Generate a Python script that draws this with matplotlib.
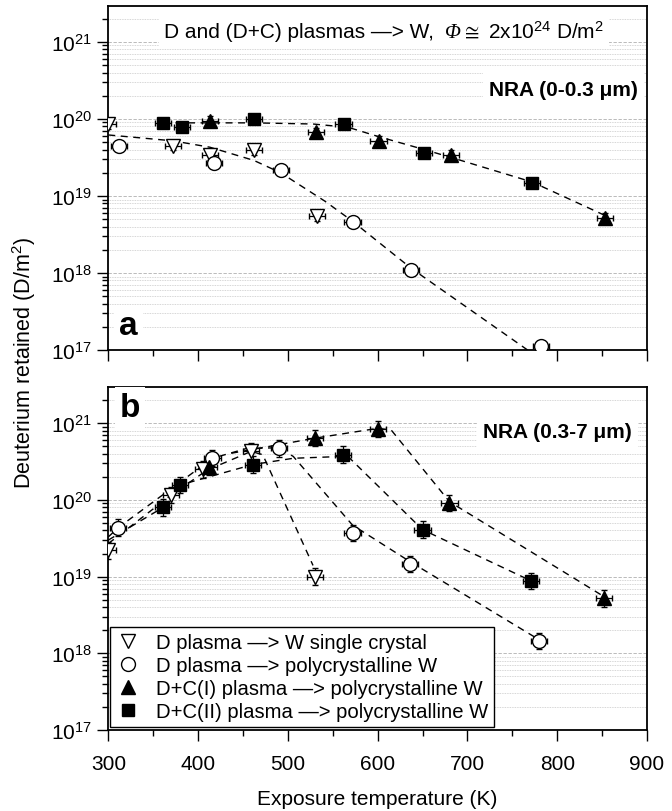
import numpy as np
import matplotlib
matplotlib.use("Agg")
import matplotlib.pyplot as plt
from matplotlib.ticker import LogLocator, MultipleLocator, NullFormatter
from matplotlib.offsetbox import TextArea, HPacker, AnnotationBbox

plt.rcParams['font.family'] = ['Liberation Sans', 'DejaVu Sans']
plt.rcParams['mathtext.fontset'] = 'custom'
plt.rcParams['mathtext.rm'] = 'Liberation Sans'
plt.rcParams['mathtext.it'] = 'Liberation Sans:italic'
plt.rcParams['mathtext.bf'] = 'Liberation Sans:bold'

# ---- panel a: NRA (0-0.3 um) ----
a_sc_T = [300, 372, 413, 462, 532]
a_sc_D = [8.6e19, 4.5e19, 3.4e19, 3.9e19, 5.5e18]
a_pw_T = [312, 418, 492, 572, 637, 782]
a_pw_D = [4.5e19, 2.7e19, 2.16e19, 4.6e18, 1.1e18, 1.13e17]
a_c1_T = [413, 531, 601, 682, 853]
a_c1_D = [9.5e19, 6.7e19, 5.2e19, 3.4e19, 5.2e18]
a_c2_T = [361, 382, 462, 562, 652, 772]
a_c2_D = [8.9e19, 7.8e19, 1.0e20, 8.5e19, 3.6e19, 1.48e19]

# dashed guide lines, panel a
a_fitC_T = [361, 462, 528, 567, 601, 652, 682, 772, 853]
a_fitC_D = [8.9e19, 8.9e19, 8.6e19, 7.8e19, 5.9e19, 4.0e19, 3.16e19, 1.52e19, 5.6e18]
a_fitD_T = [300, 372, 413, 462, 492, 541, 572, 637, 767]
a_fitD_D = [6.2e19, 5.2e19, 4.3e19, 2.9e19, 2.0e19, 8.6e18, 4.7e18, 1.16e18, 1.0e17]

# ---- panel b: NRA (0.3-7 um) ----
b_sc_T = [300, 370, 406, 459, 530]
b_sc_D = [2.2e19, 1.16e20, 2.5e20, 4.3e20, 1.0e19]
b_pw_T = [311, 416, 490, 572, 636, 780]
b_pw_D = [4.35e19, 3.5e20, 4.7e20, 3.7e19, 1.46e19, 1.45e18]
b_c1_T = [412, 530, 600, 680, 852]
b_c1_D = [2.7e20, 6.4e20, 8.4e20, 9.1e19, 5.2e18]
b_c2_T = [361, 380, 461, 561, 650, 771]
b_c2_D = [8.0e19, 1.57e20, 2.9e20, 3.9e20, 4.1e19, 8.8e18]

# dashed guide lines, panel b
b_fitSC_T = [300, 370, 410, 459, 472, 528]
b_fitSC_D = [2.7e19, 1.16e20, 2.45e20, 4.3e20, 3.9e20, 1.4e19]
b_fitPW_T = [300, 311, 416, 454, 490, 506, 572, 636, 780]
b_fitPW_D = [3.3e19, 4.35e19, 3.5e20, 4.7e20, 4.8e20, 3.7e20, 4.7e19, 1.57e19, 1.5e18]
b_fitC2_T = [300, 361, 380, 461, 506, 561, 569, 650, 771]
b_fitC2_D = [3.0e19, 8.0e19, 1.57e20, 2.9e20, 3.5e20, 3.7e20, 3.5e20, 4.1e19, 8.8e18]
b_fitC1_T = [437, 530, 600, 615, 680, 852]
b_fitC1_D = [4.07e20, 6.4e20, 8.6e20, 8.2e20, 9.5e19, 5.5e18]

T_ERR = 9          # K
A_REL_ERR = 0.15
B_REL_ERR = 0.28

labels = ['D plasma \u2014> W single crystal',
          'D plasma \u2014> polycrystalline W',
          'D+C(I) plasma \u2014> polycrystalline W',
          'D+C(II) plasma \u2014> polycrystalline W']

styles = [dict(marker='v', mfc='white', ms=10.5),
          dict(marker='o', mfc='white', ms=10),
          dict(marker='^', mfc='black', ms=10.5),
          dict(marker='s', mfc='black', ms=9)]


def setup_axis(ax):
    ax.set_yscale('log')
    ax.set_xlim(300, 900)
    ax.set_ylim(1e17, 10 ** 21.47)
    ax.xaxis.set_major_locator(MultipleLocator(100))
    ax.xaxis.set_minor_locator(MultipleLocator(50))
    ax.yaxis.set_major_locator(LogLocator(base=10, numticks=10))
    ax.yaxis.set_minor_locator(LogLocator(base=10, subs=np.arange(2, 10), numticks=20))
    ax.yaxis.set_minor_formatter(NullFormatter())
    ax.tick_params(which='both', direction='out', top=False, right=False,
                   labelsize=15, width=1)
    ax.tick_params(which='major', length=8)
    ax.tick_params(which='minor', length=4.5)
    ax.tick_params(axis='x', pad=9)
    ax.grid(True, which='major', axis='y', color='#b0b0b0', ls=(0, (4, 2)), lw=0.6)
    ax.grid(True, which='minor', axis='y', color='#c8c8c8', ls=(0, (1, 1)), lw=0.6)
    ax.set_axisbelow(True)
    for s in ax.spines.values():
        s.set_linewidth(1.3)


def draw_series(ax, sets, rel_err):
    handles = []
    for (T, D), st, lab in zip(sets, styles, labels):
        D = np.array(D)
        cont = ax.errorbar(T, D, xerr=T_ERR, yerr=[D * rel_err / (1 + rel_err), D * rel_err],
                           ls='none', color='black', mec='black', mew=1.0,
                           elinewidth=0.9, capsize=2.5, capthick=0.9, zorder=5,
                           label=lab, **st)
        handles.append(cont.lines[0])
    return handles


fig = plt.figure(figsize=(6.72, 8.12), dpi=100)
ax1 = fig.add_axes([0.1612, 0.5677, 0.8016, 0.4240])
ax2 = fig.add_axes([0.1612, 0.0998, 0.8016, 0.4220])

dash = dict(color='black', ls=(0, (5, 4)), lw=1.0, zorder=3)

# panel a
setup_axis(ax1)
ax1.tick_params(axis='x', labelbottom=False)
ax1.plot(a_fitC_T, a_fitC_D, **dash)
ax1.plot(a_fitD_T, a_fitD_D, **dash)
draw_series(ax1, [(a_sc_T, a_sc_D), (a_pw_T, a_pw_D), (a_c1_T, a_c1_D), (a_c2_T, a_c2_D)],
            A_REL_ERR)

# title line, with italic Phi
tprops = dict(fontsize=15, color='black')
title_box = HPacker(children=[
    TextArea('D and (D+C) plasmas \u2014> W,  ', textprops=tprops),
    TextArea('\u03a6', textprops=dict(fontsize=15, style='italic', family='Liberation Serif')),
    TextArea('$\\cong$ 2x10$^{24}$ D/m$^2$', textprops=tprops)],
    align='baseline', pad=0, sep=0)
ab = AnnotationBbox(title_box, (0.512, 0.927), xycoords='axes fraction',
                    box_alignment=(0.5, 0.5), frameon=True, pad=0.35,
                    bboxprops=dict(facecolor='white', edgecolor='none'))
ab.set_zorder(6)
ax1.add_artist(ab)

ax1.text(0.983, 0.758, 'NRA (0-0.3 \u03bcm)', transform=ax1.transAxes, ha='right',
         va='center', fontsize=15, fontweight='bold', zorder=6,
         bbox=dict(facecolor='white', edgecolor='none', boxstyle='square,pad=0.3'))
ax1.text(0.037, 0.07, 'a', transform=ax1.transAxes, ha='center', va='center',
         fontsize=24, fontweight='bold', zorder=6,
         bbox=dict(facecolor='white', edgecolor='none', boxstyle='square,pad=0.15'))

# panel b
setup_axis(ax2)
ax2.plot(b_fitSC_T, b_fitSC_D, **dash)
ax2.plot(b_fitPW_T, b_fitPW_D, **dash)
ax2.plot(b_fitC2_T, b_fitC2_D, **dash)
ax2.plot(b_fitC1_T, b_fitC1_D, **dash)
handles = draw_series(ax2, [(b_sc_T, b_sc_D), (b_pw_T, b_pw_D), (b_c1_T, b_c1_D),
                            (b_c2_T, b_c2_D)], B_REL_ERR)
ax2.text(0.972, 0.872, 'NRA (0.3-7 \u03bcm)', transform=ax2.transAxes, ha='right',
         va='center', fontsize=15, fontweight='bold', zorder=6,
         bbox=dict(facecolor='white', edgecolor='none', boxstyle='square,pad=0.3'))
ax2.text(0.04, 0.942, 'b', transform=ax2.transAxes, ha='center', va='center',
         fontsize=24, fontweight='bold', zorder=6,
         bbox=dict(facecolor='white', edgecolor='none', boxstyle='square,pad=0.15'))
leg = ax2.legend(handles, labels, loc='lower left', bbox_to_anchor=(0.003, 0.009),
                 borderaxespad=0, fontsize=14.6, frameon=True, fancybox=False,
                 framealpha=1, edgecolor='black', handlelength=1.2, handletextpad=0.8,
                 labelspacing=0.2, borderpad=0.28)
leg.get_frame().set_linewidth(1.0)
leg.set_zorder(7)

ax2.set_xlabel('Exposure temperature (K)', fontsize=15, labelpad=12)
fig.text(0.036, 0.553, 'Deuterium retained (D/m$^2$)', rotation=90, ha='center',
         va='center', fontsize=15.5)

fig.savefig('out.png', dpi=100)
